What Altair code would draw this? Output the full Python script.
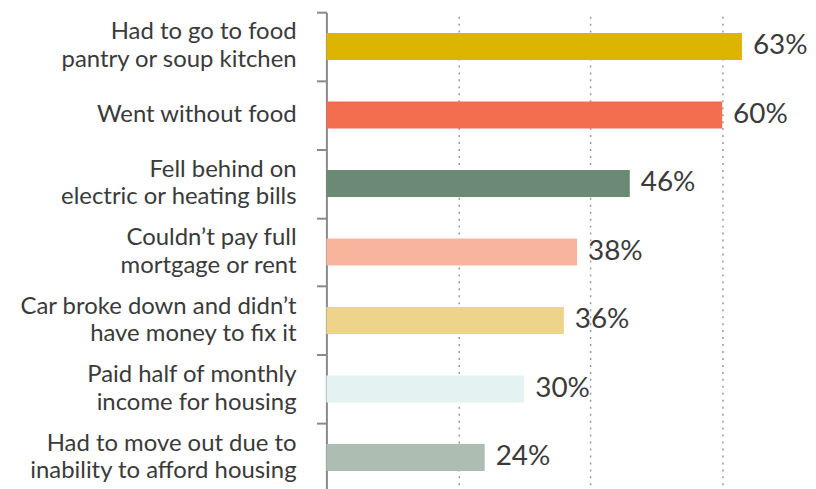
import altair as alt
import pandas as pd

categories = [
    "Had to go to food|pantry or soup kitchen",
    "Went without food",
    "Fell behind on|electric or heating bills",
    "Couldn\u2019t pay full|mortgage or rent",
    "Car broke down and didn\u2019t|have money to fix it",
    "Paid half of monthly|income for housing",
    "Had to move out due to|inability to afford housing",
]
values = [63, 60, 46, 38, 36, 30, 24]
colors = ["#DDB500", "#F26E4E", "#6B8A76", "#F9B49D", "#EED38A", "#E4F2F2", "#ADBDB2"]
grid_values = [20, 40, 60]

df = pd.DataFrame({"cat": categories, "val": values, "color": colors})
df["label"] = df["val"].astype(str) + "%"

FONT = "Lato"

yenc = alt.Y(
    "cat:N",
    sort=categories,
    title=None,
    scale=alt.Scale(paddingInner=0, paddingOuter=0),
    axis=alt.Axis(
        labels=False,
        tickBand="extent",
        tickSize=10,
        tickColor="#8a8a8a",
        tickWidth=2,
        domainColor="#8a8a8a",
        domainWidth=2,
        grid=False,
    ),
)

base = alt.Chart(df).encode(y=yenc)

bars = base.mark_bar(size=27).encode(
    x=alt.X(
        "val:Q",
        title=None,
        scale=alt.Scale(domain=[0, 70]),
        axis=alt.Axis(
            values=grid_values,
            labels=False,
            ticks=False,
            domain=False,
            grid=True,
            gridColor="#9a9a9a",
            gridDash=[2, 5],
            gridWidth=1.5,
        ),
    ),
    color=alt.Color("color:N", scale=None),
)

text = base.mark_text(
    align="left", baseline="middle", dx=11, font=FONT, fontSize=28, color="#3a3a3a"
).encode(x="val:Q", text="label:N")

lab2 = (
    base.transform_filter("indexof(datum.cat, '|') >= 0")
    .mark_text(
        align="right", baseline="middle", lineBreak="|", lineHeight=28, dy=-14,
        font=FONT, fontSize=24, color="#3a3a3a",
    )
    .encode(x=alt.value(-30), text="cat:N")
)
lab1 = (
    base.transform_filter("indexof(datum.cat, '|') < 0")
    .mark_text(
        align="right", baseline="middle", font=FONT, fontSize=24, color="#3a3a3a",
    )
    .encode(x=alt.value(-30), text="cat:N")
)

chart = (
    (bars + text + lab2 + lab1)
    .properties(width=464, height=482, padding={"top": 2, "left": 11, "right": 0, "bottom": 0})
    .configure_view(stroke=None)
)

chart.save("out.html", embed_options={"renderer": "svg", "actions": False})
